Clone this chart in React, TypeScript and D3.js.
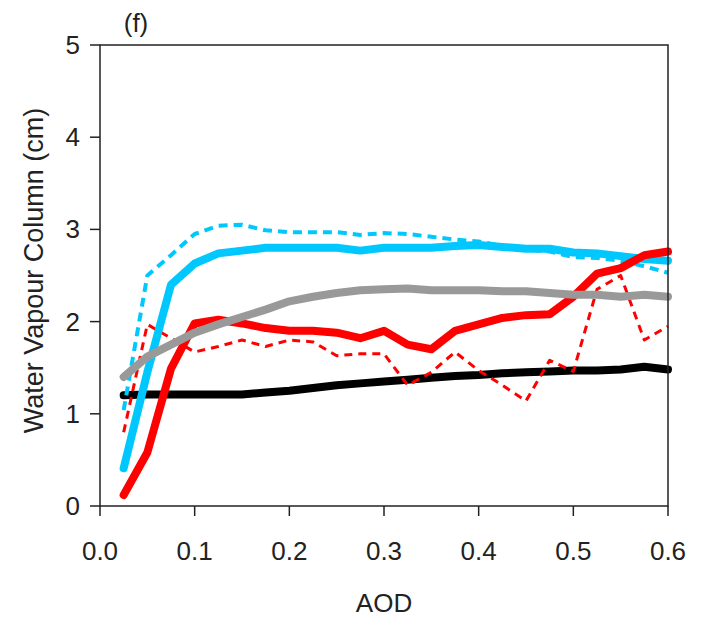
import React from "react";
import * as d3 from "d3";

const aod = [0.025, 0.05, 0.075, 0.1, 0.125, 0.15, 0.175, 0.2, 0.225, 0.25, 0.275, 0.3, 0.325, 0.35, 0.375, 0.4, 0.425, 0.45, 0.475, 0.5, 0.525, 0.55, 0.575, 0.6];

const blackSolid = [1.2, 1.21, 1.21, 1.21, 1.21, 1.21, 1.23, 1.25, 1.28, 1.31, 1.33, 1.35, 1.37, 1.39, 1.41, 1.42, 1.44, 1.45, 1.46, 1.47, 1.47, 1.48, 1.51, 1.48];
const cyanSolid = [0.41, 1.45, 2.4, 2.63, 2.74, 2.77, 2.8, 2.8, 2.8, 2.8, 2.77, 2.8, 2.8, 2.8, 2.82, 2.83, 2.81, 2.79, 2.79, 2.75, 2.74, 2.71, 2.68, 2.66];
const cyanDashed = [1.04, 2.5, 2.72, 2.95, 3.04, 3.05, 2.99, 2.97, 2.97, 2.97, 2.94, 2.96, 2.95, 2.92, 2.89, 2.87, 2.82, 2.78, 2.76, 2.7, 2.69, 2.66, 2.6, 2.53];
const redDashed = [0.8, 1.97, 1.82, 1.67, 1.73, 1.8, 1.73, 1.8, 1.78, 1.63, 1.65, 1.65, 1.31, 1.45, 1.67, 1.47, 1.31, 1.14, 1.58, 1.46, 2.35, 2.5, 1.8, 1.95];
const redSolid = [0.12, 0.58, 1.49, 1.98, 2.02, 1.98, 1.93, 1.9, 1.9, 1.88, 1.82, 1.9, 1.75, 1.7, 1.9, 1.97, 2.04, 2.07, 2.08, 2.27, 2.52, 2.58, 2.72, 2.76];
const graySolid = [1.4, 1.62, 1.75, 1.88, 1.97, 2.05, 2.13, 2.22, 2.27, 2.31, 2.34, 2.35, 2.36, 2.34, 2.34, 2.34, 2.33, 2.33, 2.31, 2.29, 2.29, 2.27, 2.29, 2.27];

const xTicks = [0, 0.1, 0.2, 0.3, 0.4, 0.5, 0.6];
const yTicks = [0, 1, 2, 3, 4, 5];

const W = 701;
const H = 620;
const M = { left: 100, right: 668, top: 45, bottom: 506 };
const FONT = "'Liberation Sans', Arial, sans-serif";

export default function App() {
  const x = d3.scaleLinear().domain([0, 0.6]).range([M.left, M.right]);
  const y = d3.scaleLinear().domain([0, 5]).range([M.bottom, M.top]);
  const line = d3
    .line<number>()
    .x((_, i) => x(aod[i]))
    .y((d) => y(d));

  const series = [
    { data: blackSolid, color: "#000000", width: 8, dash: undefined },
    { data: redDashed, color: "#FF0000", width: 3, dash: "8 6" },
    { data: cyanDashed, color: "#00C8FF", width: 4, dash: "9 6" },
    { data: cyanSolid, color: "#00C8FF", width: 8, dash: undefined },
    { data: redSolid, color: "#FF0000", width: 8, dash: undefined },
    { data: graySolid, color: "#999999", width: 8, dash: undefined },
  ];

  return (
    <svg width={W} height={H} style={{ position: "absolute", left: 0, top: 0, background: "#fff" }}>
      <rect x={0} y={0} width={W} height={H} fill="#fff" />
      {series.map((s, i) => (
        <path
          key={i}
          d={line(s.data) || ""}
          fill="none"
          stroke={s.color}
          strokeWidth={s.width}
          strokeDasharray={s.dash}
          strokeLinejoin="round"
          strokeLinecap={s.dash ? "butt" : "round"}
        />
      ))}
      <rect
        x={M.left}
        y={M.top}
        width={M.right - M.left}
        height={M.bottom - M.top}
        fill="none"
        stroke="#222"
        strokeWidth={1.5}
      />
      {yTicks.map((t) => (
        <g key={"y" + t}>
          <line x1={M.left - 10} x2={M.left} y1={y(t)} y2={y(t)} stroke="#222" strokeWidth={1.5} />
          <text x={M.left - 20} y={y(t) + 9} textAnchor="end" fontFamily={FONT} fontSize={26} fill="#222">
            {t}
          </text>
        </g>
      ))}
      {xTicks.map((t) => (
        <g key={"x" + t}>
          <line x1={x(t)} x2={x(t)} y1={M.bottom} y2={M.bottom + 10} stroke="#222" strokeWidth={1.5} />
          <text x={x(t)} y={M.bottom + 54} textAnchor="middle" fontFamily={FONT} fontSize={26} fill="#222">
            {t.toFixed(1)}
          </text>
        </g>
      ))}
      <text x={(M.left + M.right) / 2} y={612} textAnchor="middle" fontFamily={FONT} fontSize={26} fill="#222">
        AOD
      </text>
      <text
        transform={`translate(43, ${(M.top + M.bottom) / 2 - 5}) rotate(-90)`}
        textAnchor="middle"
        fontFamily={FONT}
        fontSize={27}
        fill="#222"
      >
        Water Vapour Column (cm)
      </text>
      <text x={136} y={32} textAnchor="middle" fontFamily={FONT} fontSize={26} fill="#222">
        (f)
      </text>
    </svg>
  );
}
